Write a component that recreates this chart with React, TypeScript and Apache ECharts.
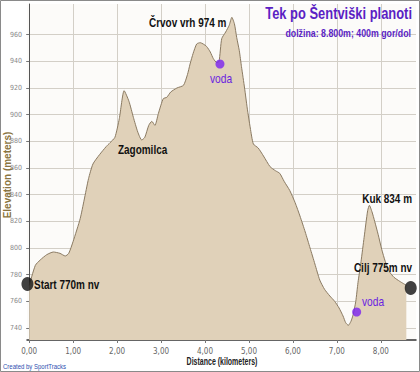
import React, { useEffect, useRef } from "react";
import * as echarts from "echarts";

const distanceKm = [
  0.0, 0.14, 0.25, 0.4, 0.55, 0.7, 0.82, 0.9, 1.0, 1.16, 1.25, 1.35, 1.45, 1.6, 1.75, 1.84, 1.95,
  2.05, 2.16, 2.27, 2.37, 2.47, 2.56, 2.63, 2.72, 2.79, 2.86, 2.94, 3.05, 3.13, 3.22, 3.36, 3.51,
  3.6, 3.66, 3.73, 3.81, 3.89, 3.96, 4.04, 4.12, 4.19, 4.27, 4.32, 4.38, 4.47, 4.55, 4.61, 4.67,
  4.72, 4.78, 4.83, 4.9, 4.96, 5.03, 5.1, 5.21, 5.33, 5.48, 5.6, 5.7, 5.8, 5.93, 6.05, 6.16, 6.28,
  6.39, 6.5, 6.61, 6.72, 6.84, 6.95, 7.05, 7.14, 7.2, 7.26, 7.32, 7.37, 7.43, 7.48, 7.55, 7.62,
  7.7, 7.74, 7.8, 7.86, 7.94, 8.02, 8.1, 8.2, 8.3, 8.43, 8.58,
];
const elevationM = [
  772, 787, 791, 795, 797, 796, 794, 796, 805, 822, 836, 852, 863, 870, 876, 879, 883,
  897, 918, 910, 898, 887, 881, 883, 892, 895, 892, 901, 912, 913, 917, 920, 922,
  930, 938, 946, 953, 954, 953, 951, 947, 942, 939, 940, 957, 962, 967, 973, 968,
  958, 948, 936, 920, 905, 890, 878, 875, 869, 861, 858, 856, 850, 843, 834, 824, 812,
  800, 788, 776, 769, 764, 760, 755, 749, 744, 742, 745, 750, 760, 774, 790, 808,
  828, 832, 827, 820, 810, 799, 790, 782, 778, 775, 772,
];

const yTicks = [740, 760, 780, 800, 820, 840, 860, 880, 900, 920, 940, 960];
const xTicks = [0, 1, 2, 3, 4, 5, 6, 7, 8];

const endPointNames = ["Start 770m nv", "Cilj 775m nv"];
const endPointDist = [-0.04, 8.68];
const endPointElev = [773, 770];

const waterName = "voda";
const waterDist = [4.34, 7.45];
const waterElev = [938, 752];

const peakNames = ["Črvov vrh 974 m", "Zagomilca", "Kuk 834 m"];

const titleText = "Tek po Šentviški planoti";
const subtitleText = "dolžina: 8.800m; 400m gor/dol";
const xName = "Distance (kilometers)";
const yName = "Elevation (meters)";
const creditText = "Created by SportTracks";

const FONT = "'Liberation Sans', Arial, sans-serif";
const AXFONT = "'DejaVu Sans Condensed', 'Liberation Sans', sans-serif";

export default function App() {
  const ref = useRef<HTMLDivElement>(null);
  useEffect(() => {
    document.body.style.margin = "0";
    if (!ref.current) return;
    const chart = echarts.init(ref.current, undefined, { renderer: "svg" });
    const profile = distanceKm.map((d, i) => [d, elevationM[i]]);
    const label = (text: string, x: number, y: number, opts: any = {}) => ({
      type: "text",
      x,
      y,
      z: 50,
      scaleX: opts.scaleX ?? 0.83,
      rotation: opts.rotation ?? 0,
      style: {
        text,
        fill: opts.fill ?? "#111",
        font: opts.font ?? `bold 12px ${FONT}`,
        textAlign: opts.align ?? "left",
        textVerticalAlign: "middle",
      },
    });
    chart.setOption({
      animation: false,
      backgroundColor: "#ffffff",
      grid: { left: 27, right: 4, top: 4, bottom: 32, show: true, backgroundColor: "#fcfbf9", borderWidth: 0 },
      xAxis: {
        type: "value",
        min: -0.05,
        max: 8.8,
        axisLine: { show: true, lineStyle: { color: "#333", width: 1.5 } },
        axisTick: { show: true, customValues: xTicks, length: 3, lineStyle: { color: "#777" } },
        axisLabel: {
          customValues: xTicks,
          formatter: (v: number) => v.toFixed(2).replace(".", ","),
          fontFamily: AXFONT,
          fontSize: 8,
          color: "#666",
          margin: 7,
        },
        splitLine: { show: true, lineStyle: { color: "#d3cfc7", width: 1 } },
      },
      yAxis: {
        type: "value",
        min: 731,
        max: 983,
        axisLine: { show: true, lineStyle: { color: "#555", width: 1 } },
        axisTick: { show: true, customValues: yTicks, length: 3, lineStyle: { color: "#777" } },
        axisLabel: {
          customValues: yTicks,
          fontFamily: AXFONT,
          fontSize: 7,
          color: "#888",
          margin: 5,
        },
        splitLine: { show: true, lineStyle: { color: "#d3cfc7", width: 1 } },
      },
      series: [
        {
          type: "line",
          data: profile,
          symbol: "none",
          smooth: 0.2,
          lineStyle: { color: "#8a7a62", width: 1 },
          areaStyle: { color: "#e0d1b9", opacity: 1, origin: "start" },
          z: 2,
        },
        {
          type: "scatter",
          data: endPointDist.map((d, i) => ({ value: [d, endPointElev[i]], name: endPointNames[i] })),
          symbol: "circle",
          symbolSize: [12, 14],
          itemStyle: { color: "#111" },
          z: 5,
        },
        {
          type: "scatter",
          data: waterDist.map((d, i) => ({ value: [d, waterElev[i]], name: waterName })),
          symbol: "circle",
          symbolSize: 9,
          itemStyle: { color: "#7a22f0" },
          z: 5,
        },
      ],
      graphic: [
        {
          type: "rect",
          shape: { x: 0.5, y: 0.5, width: 419, height: 371 },
          style: { fill: "none", stroke: "#8a8a8a", lineWidth: 1 },
          silent: true,
          z: 100,
        },
        label(titleText, 412, 13, { fill: "#5b1fc4", font: `bold 17px ${FONT}`, align: "right", scaleX: 0.76 }),
        label(subtitleText, 411, 33, { fill: "#5b1fc4", font: `bold 11px ${FONT}`, align: "right", scaleX: 0.8 }),
        label(peakNames[0], 149, 23),
        label(peakNames[1], 118, 150),
        label(peakNames[2], 412, 199, { align: "right" }),
        label(endPointNames[0], 34, 285),
        label(endPointNames[1], 412, 268, { align: "right" }),
        label(waterName, 210, 79, { fill: "#6a22e0", font: `12px ${FONT}`, scaleX: 0.85 }),
        label(waterName, 362, 302, { fill: "#6a22e0", font: `12px ${FONT}`, scaleX: 0.85 }),
        label(xName, 222, 362, { font: `bold 10px ${FONT}`, align: "center", scaleX: 0.7, fill: "#222" }),
        label(yName, 7, 175, { font: `bold 10px ${FONT}`, align: "center", scaleX: 1, fill: "#8b7440", rotation: Math.PI / 2 }),
        label(creditText, 3, 366, { font: `8px ${FONT}`, scaleX: 0.75, fill: "#2d4fb0" }),
      ],
    });
    return () => chart.dispose();
  }, []);
  return <div ref={ref} style={{ width: 420, height: 372 }} />;
}
